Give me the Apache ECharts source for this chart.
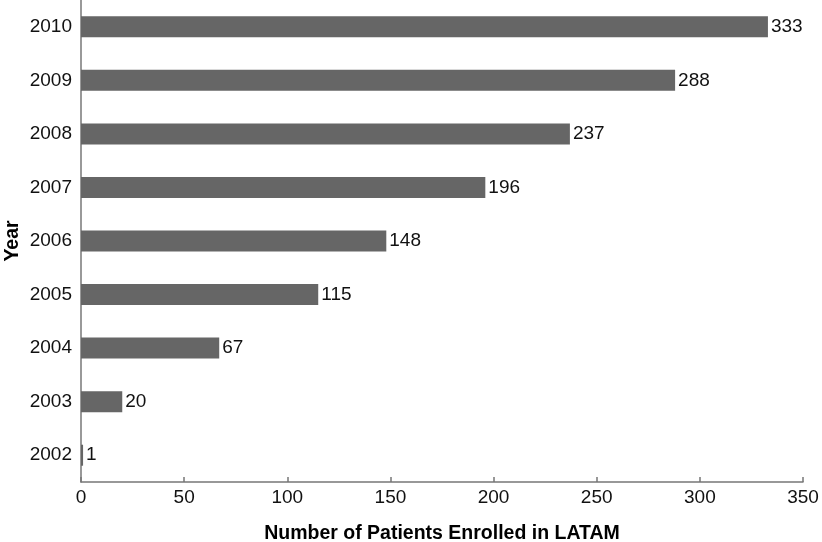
<!DOCTYPE html>
<html><head><meta charset="utf-8">
<script src="https://cdn.jsdelivr.net/npm/echarts@6/dist/echarts.min.js"></script>
<style>html,body{margin:0;padding:0;background:#fff}#c{width:822px;height:542px}</style>
</head><body><div id="c"></div>
<script>
const years = ['2002','2003','2004','2005','2006','2007','2008','2009','2010'];
const patients = [1,20,67,115,148,196,237,288,333];
const xTicks = [0,50,100,150,200,250,300,350];

const chart = echarts.init(document.getElementById('c'), null, {renderer:'canvas'});
const font = 'Liberation Sans';
chart.setOption({
  animation:false,
  grid:{left:81, right:19, top:0, bottom:60, containLabel:false, outerBoundsMode:'none'},
  xAxis:{type:'value', min:xTicks[0], max:xTicks[xTicks.length-1], interval:50,
    name:'Number of Patients Enrolled in LATAM', nameLocation:'middle', nameGap:42,
    nameMoveOverlap:false,
    nameTextStyle:{fontFamily:font, fontSize:19.5, fontWeight:'bold', color:'#000'},
    axisLine:{show:true, lineStyle:{color:'#777', width:1.5}},
    axisTick:{show:true, inside:true, length:5, lineStyle:{color:'#777', width:1.5}},
    axisLabel:{fontFamily:font, fontSize:19, color:'#111', margin:6},
    splitLine:{show:false}},
  yAxis:{type:'category', data:years,
    name:'Year', nameLocation:'middle', nameGap:58, nameRotate:90,
    nameMoveOverlap:false,
    nameTextStyle:{fontFamily:font, fontSize:19.5, fontWeight:'bold', color:'#000'},
    axisLine:{show:true, lineStyle:{color:'#777', width:1.5}},
    axisTick:{show:false},
    axisLabel:{fontFamily:font, fontSize:19, color:'#111', margin:9},
    splitLine:{show:false}},
  series:[{type:'bar', data:patients, barWidth:21,
    itemStyle:{color:'#666'},
    label:{show:true, position:'right', distance:3, fontFamily:font, fontSize:19, color:'#111'}}]
});
</script></body></html>
